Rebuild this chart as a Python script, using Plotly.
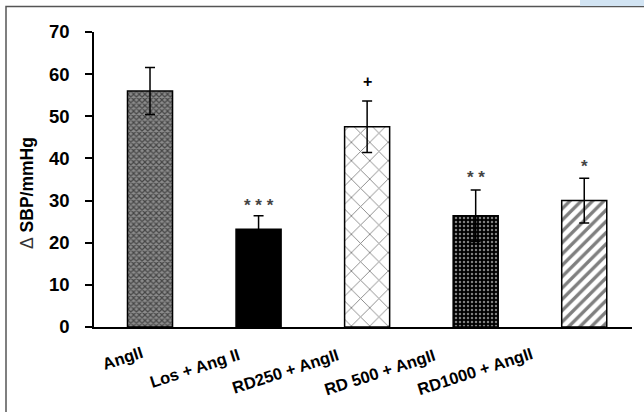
import plotly.graph_objects as go

categories = ["AngII", "Los + Ang II", "RD250 + AngII", "RD 500 + AngII", "RD1000 + AngII"]
values = [56.0, 23.2, 47.5, 26.4, 30.0]
errors = [5.6, 3.2, 6.1, 6.1, 5.3]
marks = ["", "* * *", "+", "* *", "*"]
mark_y = [None, 28.8, 58.3, 35.5, 38.0]
label_dx = [-28, -64, -82, -96, -109]
label_dy = [-31, -41, -44, -45, -44]

patterns = [
    dict(shape="x", size=4, solidity=0.5, fgcolor="#000000", bgcolor="#8c8c8c"),
    dict(shape="", fgcolor="#000000", bgcolor="#000000"),
    dict(shape="x", size=13, solidity=0.13, fgcolor="#000000", bgcolor="#ffffff"),
    dict(shape=".", size=4, solidity=0.3, fgcolor="#ffffff", bgcolor="#000000"),
    dict(shape="/", size=8, solidity=0.42, fgcolor="#000000", bgcolor="#ffffff"),
]

fig = go.Figure()
for i, (c, v, e) in enumerate(zip(categories, values, errors)):
    fig.add_trace(go.Bar(
        x=[c], y=[v],
        marker=dict(color="#000000" if i == 1 else "#ffffff",
                    pattern=patterns[i],
                    line=dict(color="#000000", width=1.5)),
        error_y=dict(type="data", array=[e], visible=True, color="#000000",
                     thickness=1.5, width=5),
        width=0.415,
        showlegend=False,
    ))

for c, m, my in zip(categories, marks, mark_y):
    if m:
        fig.add_annotation(x=c, y=my, text=m, showarrow=False,
                           font=dict(family="Liberation Sans",
                                     size=16 if m == "+" else 17,
                                     color="#000000" if m == "+" else "#444444",
                                     weight="bold"),
                           yanchor="middle")

# rotated category labels
for c, dx, dy in zip(categories, label_dx, label_dy):
    fig.add_annotation(x=c, y=0, text=c, showarrow=False, textangle=-18,
                       xshift=dx, yshift=dy, xanchor="center", yanchor="middle",
                       font=dict(family="Liberation Sans", size=16.5, color="#000000",
                                 weight="bold"))

# y-axis title
fig.add_annotation(xref="paper", yref="paper", x=(27 - 94) / 538, y=(327 - 193) / 295,
                   text="<span style='font-weight:normal;color:#333'>Δ</span> SBP/mmHg",
                   textangle=-90, showarrow=False, xanchor="center", yanchor="middle",
                   font=dict(family="Liberation Sans", size=17.5, color="#000000", weight="bold"))

# outer frame
fig.add_shape(type="rect", xref="paper", yref="paper",
              x0=(6 - 94) / 538, x1=(660 - 94) / 538, y0=(327 - 430) / 295, y1=(327 - 6.5) / 295,
              line=dict(color="#555555", width=1.5), fillcolor="rgba(0,0,0,0)")
fig.add_shape(type="rect", xref="paper", yref="paper",
              x0=(580 - 94) / 538, x1=(650 - 94) / 538, y0=(327 - 6) / 295, y1=(327 + 5) / 295,
              line=dict(width=0), fillcolor="#d2e4f3")

fig.update_layout(
    width=644, height=412,
    margin=dict(l=94, r=12, t=32, b=85, autoexpand=False),
    paper_bgcolor="#ffffff", plot_bgcolor="#ffffff",
    barmode="overlay",
    font=dict(family="Liberation Sans", color="#000000"),
    xaxis=dict(
        range=[-0.516, 4.44], automargin=False,
        showline=True, linecolor="#000000", linewidth=1.5,
        ticks="", showticklabels=False,
        showgrid=False, zeroline=False,
    ),
    yaxis=dict(
        range=[0, 70], dtick=10, automargin=False,
        showline=True, linecolor="#000000", linewidth=1.5,
        ticks="outside", ticklen=7, tickwidth=1.5, tickcolor="#000000",
        ticklabelstandoff=12,
        tickfont=dict(family="Liberation Sans", size=18.5, color="#000000", weight="bold"),
        showgrid=False, zeroline=False,
    ),
)

fig.write_html("out.html", config={"displayModeBar": False},
               post_script="document.body.style.margin='0';")
